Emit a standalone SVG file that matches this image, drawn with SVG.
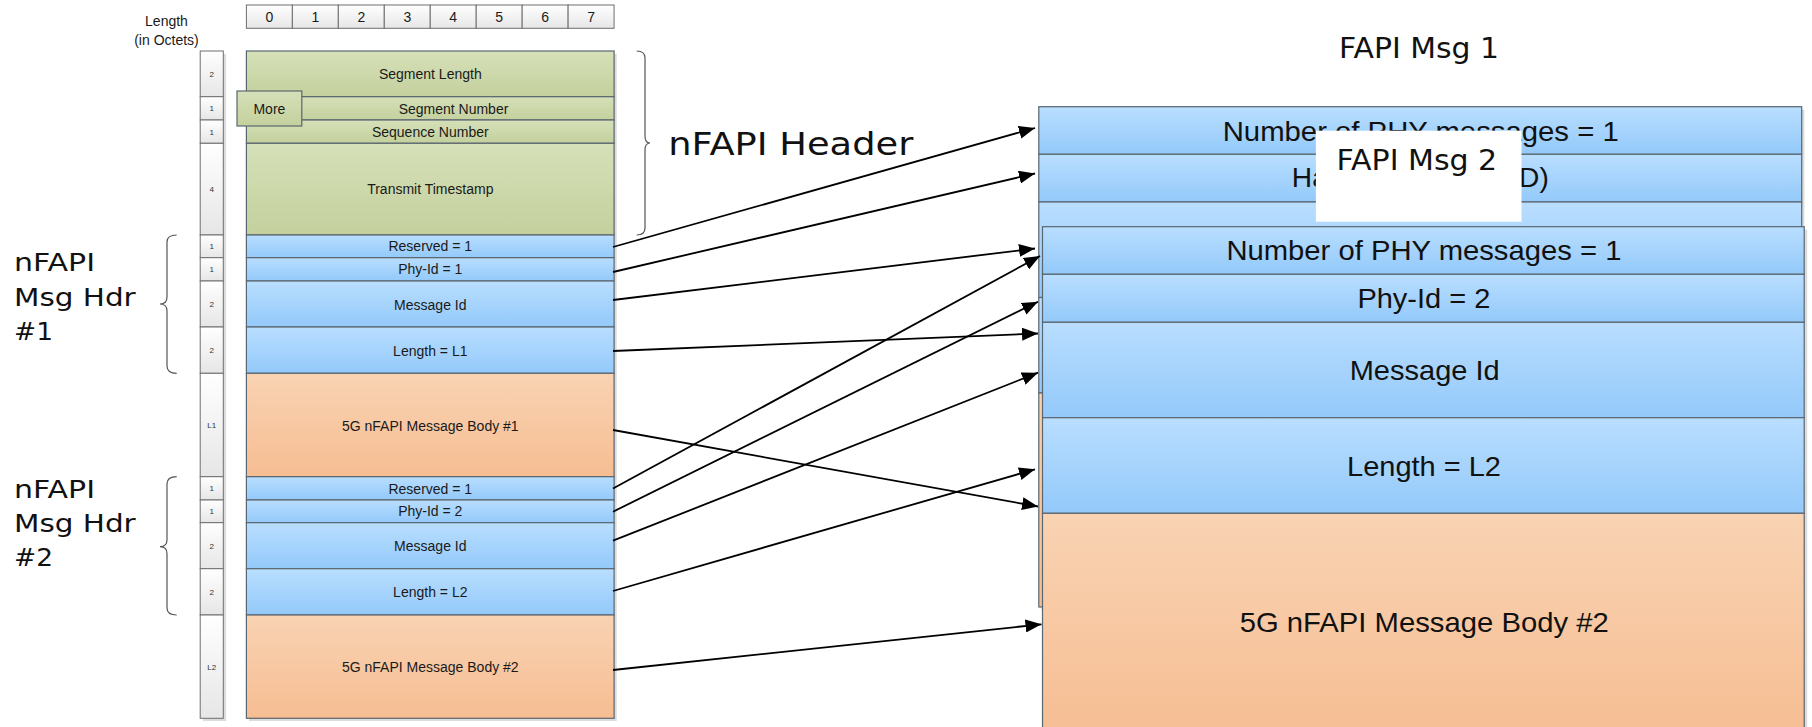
<svg xmlns="http://www.w3.org/2000/svg" width="1812" height="727" viewBox="0 0 1812 727">
  <defs>
    <linearGradient id="gGreen" x1="0" y1="0" x2="0" y2="1">
      <stop offset="0" stop-color="#d6e0b9"/>
      <stop offset="1" stop-color="#c4d09d"/>
    </linearGradient>
    <linearGradient id="gBlue" x1="0" y1="0" x2="0" y2="1">
      <stop offset="0" stop-color="#b9deff"/>
      <stop offset="1" stop-color="#93c9fa"/>
    </linearGradient>
    <linearGradient id="gOrange" x1="0" y1="0" x2="0" y2="1">
      <stop offset="0" stop-color="#f9d3b3"/>
      <stop offset="1" stop-color="#f6bd92"/>
    </linearGradient>
    <linearGradient id="gCell" x1="0" y1="0" x2="0" y2="1">
      <stop offset="0" stop-color="#ffffff"/>
      <stop offset="1" stop-color="#e6e6e6"/>
    </linearGradient>
    <marker id="arrow" markerUnits="userSpaceOnUse" markerWidth="17" markerHeight="13" refX="16" refY="6.5" orient="auto">
      <path d="M0,0 L16,6.5 L0,13 z" fill="#000"/>
    </marker>
    <style>
      .blk { stroke: #5a666f; stroke-width: 1.2; }
      .green { fill: url(#gGreen); }
      .blue { fill: url(#gBlue); }
      .orange { fill: url(#gOrange); }
      .cell { fill: url(#gCell); stroke: #6e6e6e; stroke-width: 1; }
      .shadow { fill: #dcdcdc; }
      .t14 { font-family: "Liberation Sans", Arial, sans-serif; font-size: 14px; fill: #1a1a1a; text-anchor: middle; }
      .t8 { font-family: "Liberation Sans", Arial, sans-serif; font-size: 8px; fill: #333; text-anchor: middle; }
      .t28 { font-family: "Liberation Sans", Arial, sans-serif; font-size: 28px; fill: #111; text-anchor: middle; }
      .lbl { font-family: "DejaVu Sans", Verdana, sans-serif; fill: #111; }
      .brace { fill: none; stroke: #555; stroke-width: 1.2; }
      .conn { fill: none; stroke: #000; stroke-width: 1.8; marker-end: url(#arrow); }
    </style>
  </defs>

  <rect width="1812" height="727" fill="#fff"/>

  <!-- bit index ruler -->
  <g id="bit-ruler">
    <rect class="cell" x="246.4" y="5" width="45.96" height="23.3"/>
    <rect class="cell" x="292.36" y="5" width="45.96" height="23.3"/>
    <rect class="cell" x="338.32" y="5" width="45.96" height="23.3"/>
    <rect class="cell" x="384.28" y="5" width="45.96" height="23.3"/>
    <rect class="cell" x="430.24" y="5" width="45.96" height="23.3"/>
    <rect class="cell" x="476.2" y="5" width="45.96" height="23.3"/>
    <rect class="cell" x="522.16" y="5" width="45.96" height="23.3"/>
    <rect class="cell" x="568.12" y="5" width="45.96" height="23.3"/>
    <text class="t14" x="269.4" y="21.7">0</text>
    <text class="t14" x="315.3" y="21.7">1</text>
    <text class="t14" x="361.3" y="21.7">2</text>
    <text class="t14" x="407.3" y="21.7">3</text>
    <text class="t14" x="453.2" y="21.7">4</text>
    <text class="t14" x="499.2" y="21.7">5</text>
    <text class="t14" x="545.1" y="21.7">6</text>
    <text class="t14" x="591.1" y="21.7">7</text>
  </g>

  <g id="length-caption">
    <text class="t14" x="166.5" y="26">Length</text>
    <text class="t14" x="166.5" y="45">(in Octets)</text>
  </g>

  <!-- octet count column -->
  <g id="octet-column">
    <rect class="shadow" x="203" y="54" width="23.1" height="667"/>
    <rect class="cell" x="200.2" y="51" width="23.1" height="45.7"/>
    <rect class="cell" x="200.2" y="96.7" width="23.1" height="23.3"/>
    <rect class="cell" x="200.2" y="120" width="23.1" height="23.3"/>
    <rect class="cell" x="200.2" y="143.3" width="23.1" height="91.7"/>
    <rect class="cell" x="200.2" y="235" width="23.1" height="22.7"/>
    <rect class="cell" x="200.2" y="257.7" width="23.1" height="23.3"/>
    <rect class="cell" x="200.2" y="281" width="23.1" height="46"/>
    <rect class="cell" x="200.2" y="327" width="23.1" height="46.3"/>
    <rect class="cell" x="200.2" y="373.3" width="23.1" height="103.4"/>
    <rect class="cell" x="200.2" y="476.7" width="23.1" height="23.3"/>
    <rect class="cell" x="200.2" y="500" width="23.1" height="22.7"/>
    <rect class="cell" x="200.2" y="522.7" width="23.1" height="46"/>
    <rect class="cell" x="200.2" y="568.7" width="23.1" height="46.3"/>
    <rect class="cell" x="200.2" y="615" width="23.1" height="103.3"/>
    <text class="t8" x="211.7" y="76.8">2</text>
    <text class="t8" x="211.7" y="111.3">1</text>
    <text class="t8" x="211.7" y="134.6">1</text>
    <text class="t8" x="211.7" y="192">4</text>
    <text class="t8" x="211.7" y="249.3">1</text>
    <text class="t8" x="211.7" y="272.3">1</text>
    <text class="t8" x="211.7" y="307">2</text>
    <text class="t8" x="211.7" y="353">2</text>
    <text class="t8" x="211.7" y="428">L1</text>
    <text class="t8" x="211.7" y="491.3">1</text>
    <text class="t8" x="211.7" y="514.3">1</text>
    <text class="t8" x="211.7" y="548.7">2</text>
    <text class="t8" x="211.7" y="594.8">2</text>
    <text class="t8" x="211.7" y="669.7">L2</text>
  </g>

  <!-- nFAPI packet layout -->
  <rect class="shadow" x="249" y="54" width="367.7" height="667"/>
  <g id="segment-length">
    <rect class="blk green" x="246.4" y="51" width="367.7" height="45.7"/>
    <text class="t14" x="430.3" y="79">Segment Length</text>
  </g>
  <g id="segment-number">
    <rect class="blk green" x="246.4" y="96.7" width="367.7" height="23.3"/>
    <text class="t14" x="453.5" y="113.5">Segment Number</text>
  </g>
  <g id="sequence-number">
    <rect class="blk green" x="246.4" y="120" width="367.7" height="23.3"/>
    <text class="t14" x="430.3" y="136.7">Sequence Number</text>
  </g>
  <g id="transmit-timestamp">
    <rect class="blk green" x="246.4" y="143.3" width="367.7" height="91.7"/>
    <text class="t14" x="430.3" y="194">Transmit Timestamp</text>
  </g>
  <g id="more-flag">
    <rect class="blk green" x="237" y="91" width="64.8" height="35"/>
    <text class="t14" x="269.4" y="113.5">More</text>
  </g>
  <g id="hdr1-reserved">
    <rect class="blk blue" x="246.4" y="235" width="367.7" height="22.7"/>
    <text class="t14" x="430.3" y="251">Reserved = 1</text>
  </g>
  <g id="hdr1-phy-id">
    <rect class="blk blue" x="246.4" y="257.7" width="367.7" height="23.3"/>
    <text class="t14" x="430.3" y="274.3">Phy-Id = 1</text>
  </g>
  <g id="hdr1-message-id">
    <rect class="blk blue" x="246.4" y="281" width="367.7" height="46"/>
    <text class="t14" x="430.3" y="309.5">Message Id</text>
  </g>
  <g id="hdr1-length">
    <rect class="blk blue" x="246.4" y="327" width="367.7" height="46.3"/>
    <text class="t14" x="430.3" y="355.5">Length = L1</text>
  </g>
  <g id="body1">
    <rect class="blk orange" x="246.4" y="373.3" width="367.7" height="103.4"/>
    <text class="t14" x="430.3" y="430.5">5G nFAPI Message Body #1</text>
  </g>
  <g id="hdr2-reserved">
    <rect class="blk blue" x="246.4" y="476.7" width="367.7" height="23.3"/>
    <text class="t14" x="430.3" y="493.5">Reserved = 1</text>
  </g>
  <g id="hdr2-phy-id">
    <rect class="blk blue" x="246.4" y="500" width="367.7" height="22.7"/>
    <text class="t14" x="430.3" y="516.3">Phy-Id = 2</text>
  </g>
  <g id="hdr2-message-id">
    <rect class="blk blue" x="246.4" y="522.7" width="367.7" height="46"/>
    <text class="t14" x="430.3" y="550.7">Message Id</text>
  </g>
  <g id="hdr2-length">
    <rect class="blk blue" x="246.4" y="568.7" width="367.7" height="46.3"/>
    <text class="t14" x="430.3" y="596.8">Length = L2</text>
  </g>
  <g id="body2">
    <rect class="blk orange" x="246.4" y="615" width="367.7" height="103.3"/>
    <text class="t14" x="430.3" y="672">5G nFAPI Message Body #2</text>
  </g>

  <!-- braces and group labels -->
  <g id="nfapi-header-label">
    <path class="brace" d="M636.7,51 Q645,51 645,58 L645,136 Q645,143 650,143 Q645,143 645,150 L645,228 Q645,235 636.7,235"/>
    <text class="lbl" x="668.3" y="155" font-size="32" textLength="245" lengthAdjust="spacingAndGlyphs">nFAPI Header</text>
  </g>
  <g id="msg-hdr1-label">
    <path class="brace" d="M176.7,235 Q167,235 167,242 L167,297 Q167,304 160,304 Q167,304 167,311 L167,366 Q167,373.3 176.7,373.3"/>
    <text class="lbl" x="14" y="271" font-size="24" textLength="81" lengthAdjust="spacingAndGlyphs">nFAPI</text>
    <text class="lbl" x="14" y="306" font-size="24" textLength="121.7" lengthAdjust="spacingAndGlyphs">Msg Hdr</text>
    <text class="lbl" x="14" y="340" font-size="24" textLength="39" lengthAdjust="spacingAndGlyphs">#1</text>
  </g>
  <g id="msg-hdr2-label">
    <path class="brace" d="M176.7,476.7 Q167,476.7 167,484 L167,539.7 Q167,546.7 160,546.7 Q167,546.7 167,553.7 L167,608 Q167,615 176.7,615"/>
    <text class="lbl" x="14" y="497.5" font-size="24" textLength="81" lengthAdjust="spacingAndGlyphs">nFAPI</text>
    <text class="lbl" x="14" y="532" font-size="24" textLength="121.7" lengthAdjust="spacingAndGlyphs">Msg Hdr</text>
    <text class="lbl" x="14" y="566" font-size="24" textLength="39" lengthAdjust="spacingAndGlyphs">#2</text>
  </g>

  <!-- FAPI message 1 (behind) -->
  <g id="fapi-msg1">
    <text class="lbl" x="1419" y="57.5" font-size="28" text-anchor="middle" textLength="160" lengthAdjust="spacingAndGlyphs">FAPI Msg 1</text>
    <rect class="shadow" x="1041.5" y="109.5" width="762.9" height="500.5"/>
    <rect class="blk blue" x="1038.8" y="106.7" width="762.9" height="47.6"/>
    <rect class="blk blue" x="1038.8" y="154.3" width="762.9" height="47.7"/>
    <rect class="blk blue" x="1038.8" y="202" width="762.9" height="95.5"/>
    <rect class="blk blue" x="1038.8" y="297.5" width="762.9" height="95.5"/>
    <rect class="blk orange" x="1038.8" y="393" width="762.9" height="214"/>
    <text class="t28" x="1420.7" y="140.7" textLength="396" lengthAdjust="spacingAndGlyphs">Number of PHY messages = 1</text>
    <text class="t28" x="1420.3" y="187.3" textLength="257" lengthAdjust="spacingAndGlyphs">Handle = 1 (PHY ID)</text>
  </g>

  <!-- FAPI message 2 caption on white panel -->
  <g id="fapi-msg2-caption">
    <rect x="1315.9" y="130.7" width="205.6" height="91" fill="#fff"/>
    <text class="lbl" x="1416.9" y="170" font-size="28" text-anchor="middle" textLength="160.6" lengthAdjust="spacingAndGlyphs">FAPI Msg 2</text>
  </g>

  <!-- FAPI message 2 (front) -->
  <g id="fapi-msg2">
    <rect class="shadow" x="1045.5" y="229.7" width="761.7" height="510"/>
    <rect class="blk blue" x="1042.5" y="226.7" width="761.7" height="47.6"/>
    <rect class="blk blue" x="1042.5" y="274.3" width="761.7" height="48"/>
    <rect class="blk blue" x="1042.5" y="322.3" width="761.7" height="95.4"/>
    <rect class="blk blue" x="1042.5" y="417.7" width="761.7" height="95.6"/>
    <rect class="blk orange" x="1042.5" y="513.3" width="761.7" height="226.7"/>
    <text class="t28" x="1423.9" y="260" textLength="395" lengthAdjust="spacingAndGlyphs">Number of PHY messages = 1</text>
    <text class="t28" x="1423.9" y="308.3" textLength="133" lengthAdjust="spacingAndGlyphs">Phy-Id = 2</text>
    <text class="t28" x="1424.7" y="380" textLength="150" lengthAdjust="spacingAndGlyphs">Message Id</text>
    <text class="t28" x="1424" y="476" textLength="154" lengthAdjust="spacingAndGlyphs">Length = L2</text>
    <text class="t28" x="1424.2" y="631.7" textLength="369" lengthAdjust="spacingAndGlyphs">5G nFAPI Message Body #2</text>
  </g>

  <!-- field mapping connectors -->
  <g id="connectors">
    <line class="conn" x1="613" y1="247" x2="1035" y2="128"/>
    <line class="conn" x1="613" y1="272" x2="1035" y2="173.5"/>
    <line class="conn" x1="613" y1="300" x2="1035" y2="248.5"/>
    <line class="conn" x1="613" y1="351" x2="1038" y2="333.5"/>
    <line class="conn" x1="613" y1="430" x2="1038" y2="506.5"/>
    <line class="conn" x1="613" y1="488.5" x2="1040" y2="256"/>
    <line class="conn" x1="613" y1="511.7" x2="1038" y2="301.7"/>
    <line class="conn" x1="613" y1="540.7" x2="1038" y2="372.7"/>
    <line class="conn" x1="613" y1="591" x2="1035" y2="469.3"/>
    <line class="conn" x1="613" y1="670" x2="1041.5" y2="624.3"/>
  </g>
</svg>
